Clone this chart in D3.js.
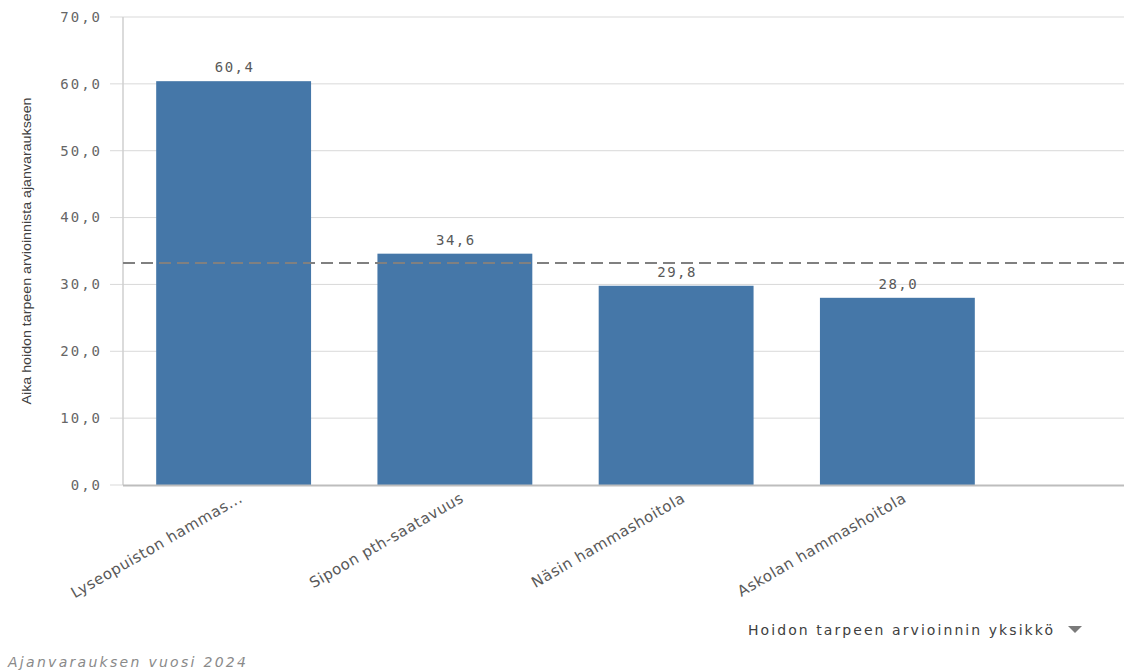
<!DOCTYPE html>
<html>
<head>
<meta charset="utf-8">
<script src="https://cdn.jsdelivr.net/npm/d3@7"></script>
<style>
  html, body { margin: 0; padding: 0; background: #fff; }
  svg { display: block; }
</style>
</head>
<body>
<svg id="chart" width="1124" height="671"></svg>
<script>
// Waiting time per care-need assessment unit, 2024
const categories = ["Lyseopuiston hammas...", "Sipoon pth-saatavuus", "Näsin hammashoitola", "Askolan hammashoitola"];
const values = [60.4, 34.6, 29.8, 28.0];
const referenceValue = [33.2];
const yTicks = [0, 10, 20, 30, 40, 50, 60, 70];

const svg = d3.select("#chart");
const plotLeft = 123, plotRight = 1124, plotTop = 17, plotBottom = 485;

const fmt = v => d3.format(".1f")(v).replace(".", ",");

const y = d3.scaleLinear().domain([0, 70]).range([plotBottom, plotTop]);
const x = d3.scaleBand().domain(categories).range([plotLeft, 1008]).paddingInner(0.3).paddingOuter(0.15);

const monoFont = "'DejaVu Sans Mono', monospace";

// gridlines
svg.append("g").selectAll("line").data(yTicks.filter(d => d > 0)).join("line")
  .attr("x1", 110).attr("x2", plotRight)
  .attr("y1", d => y(d)).attr("y2", d => y(d))
  .attr("stroke", "#d9d9d9").attr("stroke-width", 1);

// tick mark at zero
svg.append("line").attr("x1", 110).attr("x2", plotLeft).attr("y1", y(0)).attr("y2", y(0))
  .attr("stroke", "#d9d9d9");

// y tick labels
svg.append("g").selectAll("text").data(yTicks).join("text")
  .attr("x", 102).attr("y", d => y(d))
  .attr("dy", "0.35em")
  .attr("text-anchor", "end")
  .attr("font-family", monoFont).attr("font-size", 14)
  .attr("letter-spacing", 2)
  .attr("fill", "#666")
  .text(d => fmt(d));

// bars
svg.append("g").selectAll("rect").data(values).join("rect")
  .attr("x", (d, i) => x(categories[i]))
  .attr("width", x.bandwidth())
  .attr("y", d => y(d))
  .attr("height", d => y(0) - y(d))
  .attr("fill", "#4577a8");

// y axis line
svg.append("line").attr("x1", plotLeft).attr("x2", plotLeft).attr("y1", plotTop).attr("y2", plotBottom)
  .attr("stroke", "#cfcfcf").attr("stroke-width", 1.5);

// x axis baseline
svg.append("line").attr("x1", plotLeft).attr("x2", plotRight).attr("y1", plotBottom + 0.5).attr("y2", plotBottom + 0.5)
  .attr("stroke", "#bdbdbd").attr("stroke-width", 2);

// reference line
svg.append("g").selectAll("line").data(referenceValue).join("line")
  .attr("x1", plotLeft).attr("x2", plotRight)
  .attr("y1", d => y(d)).attr("y2", d => y(d))
  .attr("stroke", "#808080").attr("stroke-width", 2)
  .attr("stroke-dasharray", "12,6");

// value labels
svg.append("g").selectAll("text").data(values).join("text")
  .attr("x", (d, i) => x(categories[i]) + x.bandwidth() / 2 + 1)
  .attr("y", d => y(d) - 9)
  .attr("text-anchor", "middle")
  .attr("font-family", monoFont).attr("font-size", 14)
  .attr("letter-spacing", 1.5)
  .attr("fill", "#595959")
  .text(d => fmt(d));

// category labels
svg.append("g").selectAll("text").data(categories).join("text")
  .attr("transform", d => `translate(${x(d) + x.bandwidth() / 2 + 10},${plotBottom + 16}) rotate(-30)`)
  .attr("text-anchor", "end")
  .attr("font-family", "'DejaVu Sans', sans-serif").attr("font-size", 15)
  .attr("letter-spacing", 0.6)
  .attr("fill", "#595959")
  .text(d => d);

// y axis title
svg.append("text")
  .attr("transform", `translate(31,251) rotate(-90)`)
  .attr("text-anchor", "middle")
  .attr("font-family", "'Liberation Sans Narrow', 'Liberation Sans', sans-serif").attr("font-size", 13)
  .attr("textLength", 307).attr("lengthAdjust", "spacingAndGlyphs")
  .attr("fill", "#404040")
  .text("Aika hoidon tarpeen arvioinnista ajanvaraukseen");

// dimension selector
svg.append("text")
  .attr("x", 748).attr("y", 635)
  .attr("font-family", "'DejaVu Sans', sans-serif").attr("font-size", 14)
  .attr("textLength", 305).attr("lengthAdjust", "spacing")
  .attr("fill", "#404040")
  .text("Hoidon tarpeen arvioinnin yksikkö");
svg.append("path")
  .attr("d", "M1068,626 L1082,626 L1075,633 Z")
  .attr("fill", "#7a7a7a");

// footer
svg.append("text")
  .attr("x", 8).attr("y", 667)
  .attr("font-family", "'DejaVu Sans', sans-serif").attr("font-size", 14)
  .attr("font-style", "italic")
  .attr("textLength", 238).attr("lengthAdjust", "spacing")
  .attr("fill", "#8a8a8a")
  .text("Ajanvarauksen vuosi 2024");
</script>
</body>
</html>
